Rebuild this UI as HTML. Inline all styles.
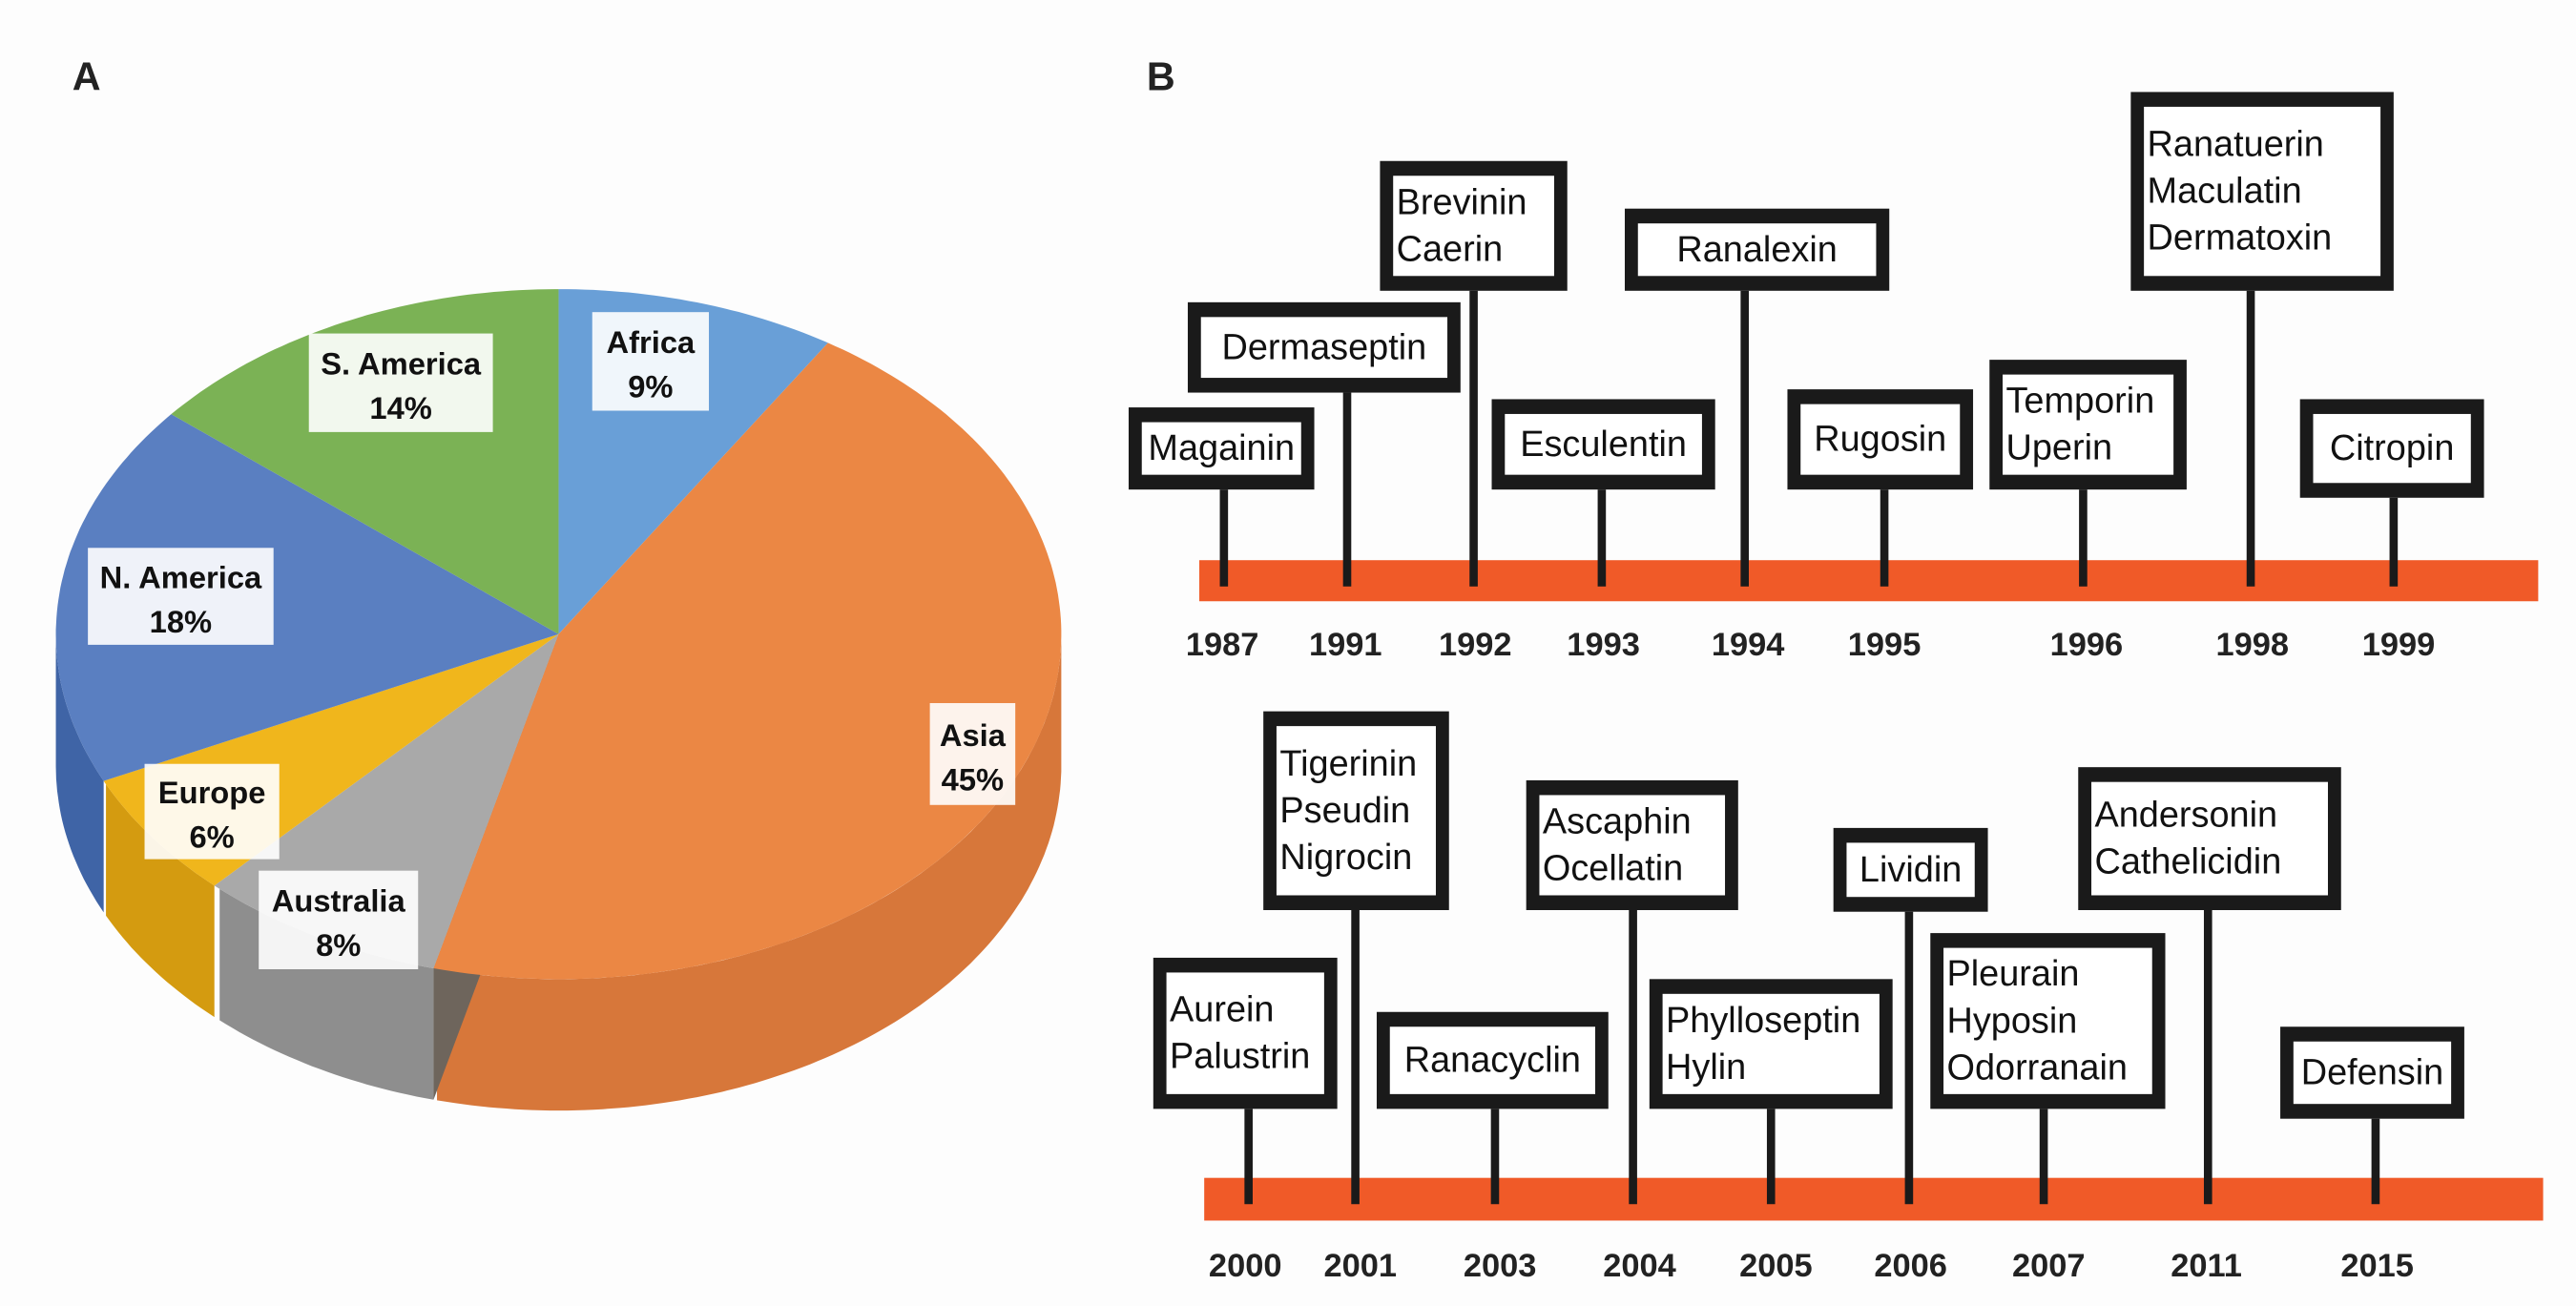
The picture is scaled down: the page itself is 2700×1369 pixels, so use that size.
<!DOCTYPE html>
<html><head><meta charset="utf-8"><style>
html,body{margin:0;padding:0;background:#fdfdfd;}
svg{display:block;}
</style></head><body>
<svg id="fig" width="2700" height="1369" viewBox="0 0 1568 795" preserveAspectRatio="none" xmlns="http://www.w3.org/2000/svg">
<rect x="0" y="0" width="1568" height="795" fill="#fdfdfd"/>
<text x="44" y="55" font-family="Liberation Sans, sans-serif" font-weight="bold" font-size="24" fill="#222">A</text>
<text x="698" y="55" font-family="Liberation Sans, sans-serif" font-weight="bold" font-size="24" fill="#222">B</text>
<g id="pie"></g>
<g id="tl"></g>
</svg>
<script>
const regions = ["Africa","Asia","Australia","Europe","N. America","S. America"];
const shares = [9,45,8,6,18,14];
const topColors = ["#699fd7","#eb8744","#a9a9a9","#f0b61c","#5a7fc1","#7bb255"];
const sideColors = ["#4f82b8","#d7773a","#8e8e8e","#d49b10","#3f64a6","#5f9641"];
const labelPos = [[396,220,71,60],[592,459,52,62],[206,560,97,60],[129,494,82,58],[110,363,113,59],[244,233,112,60]];

const topYears = ["1987","1991","1992","1993","1994","1995","1996","1998","1999"];
const topNames = [["Magainin"],["Dermaseptin"],["Brevinin","Caerin"],["Esculentin"],["Ranalexin"],["Rugosin"],["Temporin","Uperin"],["Ranatuerin","Maculatin","Dermatoxin"],["Citropin"]];
const botYears = ["2000","2001","2003","2004","2005","2006","2007","2011","2015"];
const botNames = [["Aurein","Palustrin"],["Tigerinin","Pseudin","Nigrocin"],["Ranacyclin"],["Ascaphin","Ocellatin"],["Phylloseptin","Hylin"],["Lividin"],["Pleurain","Hyposin","Odorranain"],["Andersonin","Cathelicidin"],["Defensin"]];

const NS="http://www.w3.org/2000/svg";
function mk(tag,attrs,parent){const e=document.createElementNS(NS,tag);for(const k in attrs)e.setAttribute(k,attrs[k]);parent.appendChild(e);return e;}

// ---- Pie ----
const pie=document.getElementById('pie');
const cx=340,cy=386,rx=306,ry=210,depth=80;
function pt(a,dy){const r=a*Math.PI/180;return [cx+rx*Math.sin(r),cy-ry*Math.cos(r)+(dy||0)];}
const total=shares.reduce((a,b)=>a+b,0);
let acc=0;const angs=[];
shares.forEach(v=>{const a1=acc/total*360;acc+=v;angs.push([a1,acc/total*360]);});
angs.forEach((an,i)=>{
  const s=Math.max(an[0],90),e=Math.min(an[1],270);
  if(e<=s)return;
  const top=[],bot=[];
  for(let a=s;a<=e+0.001;a+=1){top.push(pt(Math.min(a,e)));bot.push(pt(Math.min(a,e),depth));}
  const pts=top.concat(bot.reverse()).map(p=>p[0].toFixed(1)+','+p[1].toFixed(1)).join(' ');
  const p=mk('polygon',{points:pts,fill:sideColors[i]},pie);
  
  
});
{const a=angs[1][1];const p1=pt(a);const f=mk('polygon',{points:`${cx},${cy} ${p1[0]},${p1[1]} ${p1[0]},${p1[1]+depth} ${cx},${cy+depth}`,fill:"#6e655c"},pie);

}
angs.forEach((an,i)=>{
  const pts=[[cx,cy]];
  for(let a=an[0];a<=an[1]+0.001;a+=1)pts.push(pt(Math.min(a,an[1])));
  pts.push(pt(an[1]));
  const p=mk('polygon',{points:pts.map(q=>q[0].toFixed(1)+','+q[1].toFixed(1)).join(' '),fill:topColors[i]},pie);
  
  
});
regions.forEach((r,i)=>{
  const [lx,ly,w,h]=labelPos[i];
  const g=mk('g',{},pie);
  
  
  mk('rect',{x:lx-w/2,y:ly-h/2,width:w,height:h,fill:"#ffffff","fill-opacity":"0.9"},g);
  const t1=mk('text',{x:lx,y:ly-5,"text-anchor":"middle","font-family":"Liberation Sans, sans-serif","font-weight":"bold","font-size":"19",fill:"#111"},g);t1.textContent=r;
  const t2=mk('text',{x:lx,y:ly+22,"text-anchor":"middle","font-family":"Liberation Sans, sans-serif","font-weight":"bold","font-size":"19",fill:"#111"},g);t2.textContent=shares[i]+'%';
});

// ---- Timeline ----
const tl=document.getElementById('tl');
const topLayout={bar:[730,341,1545,366],yearY:399,stems:[745,820,897,975,1062,1147,1268,1370,1457],yearX:[744,819,898,976,1064,1147,1270,1371,1460],
 boxes:[[687,248,800,298],[723,184,889,239],[840,98,954,177],[908,243,1044,298],[989,127,1150,177],[1088,237,1201,298],[1211,219,1331,298],[1297,56,1457,177],[1400,243,1512,303]]};
const botLayout={bar:[733,717,1548,743],yearY:777,stems:[760,825,910,994,1078,1162,1244,1344,1446],yearX:[758,828,913,998,1081,1163,1247,1343,1447],
 boxes:[[702,583,814,675],[769,433,882,554],[838,616,979,675],[929,475,1058,554],[1004,596,1152,675],[1116,504,1210,555],[1175,568,1318,675],[1265,467,1425,554],[1388,625,1500,681]]};
function drawRow(L,years,names,tag){
  const b=mk('rect',{x:L.bar[0],y:L.bar[1],width:L.bar[2]-L.bar[0],height:L.bar[3]-L.bar[1],fill:"#f05a28"},tl);
  
  
  years.forEach((y,i)=>{
    const bx=L.boxes[i];
    const st=mk('rect',{x:L.stems[i]-2.5,y:bx[3],width:5,height:L.bar[1]+16-bx[3],fill:"#1a1a1a"},tl);
    
    
    const g=mk('g',{},tl);
    
    
    mk('rect',{x:bx[0],y:bx[1],width:bx[2]-bx[0],height:bx[3]-bx[1],fill:"#1a1a1a"},g);
    mk('rect',{x:bx[0]+8,y:bx[1]+9,width:bx[2]-bx[0]-16,height:bx[3]-bx[1]-18,fill:"#ffffff"},g);
    const n=names[i].length,lh=28.5,mid=(bx[1]+bx[3])/2;
    names[i].forEach((nm,j)=>{
      const single=n===1;
      const t=mk('text',{x:single?(bx[0]+bx[2])/2:bx[0]+10,y:mid+(j-(n-1)/2)*lh+7,"text-anchor":single?"middle":"start","font-family":"Liberation Sans, sans-serif","font-size":"22",fill:"#111"},g);
      t.textContent=nm;
    });
    const yt=mk('text',{x:L.yearX[i],y:L.yearY,"text-anchor":"middle","font-family":"Liberation Sans, sans-serif","font-weight":"bold","font-size":"20",fill:"#222"},tl);
    
    
    yt.textContent=y;
  });
}
drawRow(topLayout,topYears,topNames,'top');
drawRow(botLayout,botYears,botNames,'bottom');
</script>
</body></html>
